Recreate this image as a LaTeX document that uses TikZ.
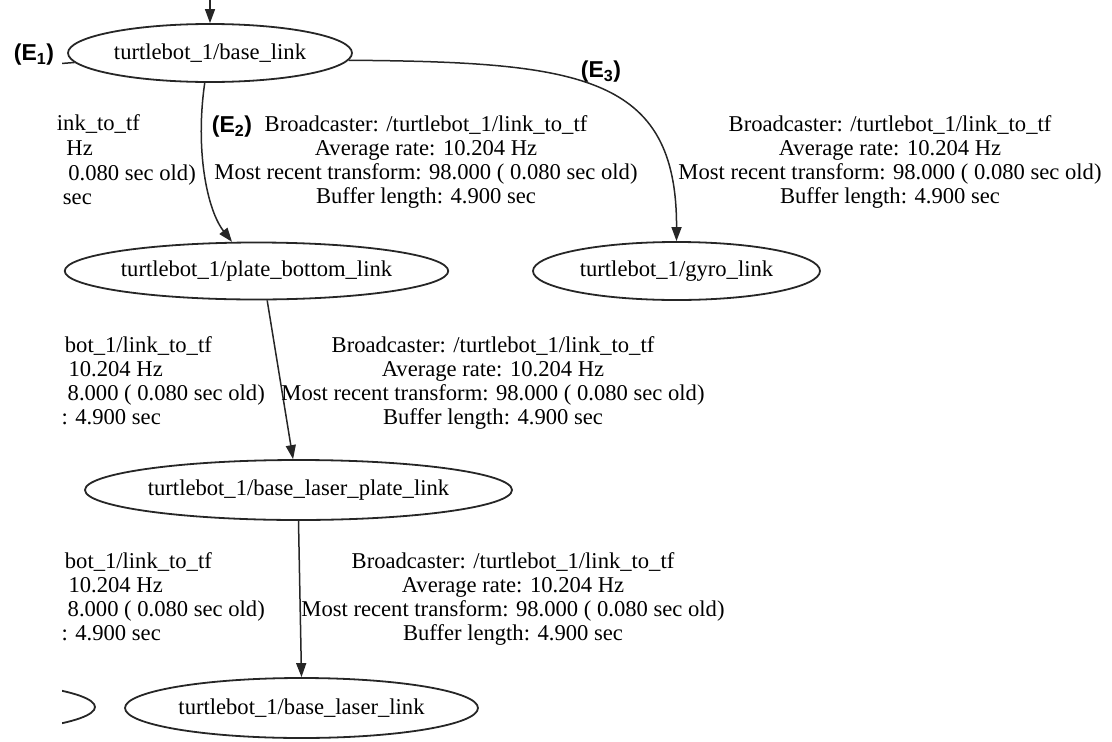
\documentclass[tikz,border=0pt]{standalone}
\usepackage{fontspec}
\setmainfont{Liberation Serif}
\newfontfamily\lblfont{Liberation Sans}
\usetikzlibrary{arrows.meta,shapes.geometric}
\begin{document}
\begin{tikzpicture}[x=1pt,y=-1pt,
  frame/.style={draw=black!85, line width=1.8pt, ellipse, inner sep=0pt, text=black,
    font=\fontsize{22.6}{24}\selectfont},
  edge/.style={draw=black!85, line width=1.5pt, -{Triangle[length=14pt,width=10pt]}},
  plainedge/.style={draw=black!85, line width=1.5pt},
  info/.style={align=center, inner sep=0pt, text=black, font=\fontsize{22.6}{24}\selectfont},
  cut/.style={anchor=base east, inner sep=0pt, text=black, font=\fontsize{22.6}{24}\selectfont},
  elabel/.style={inner sep=0pt, text=black, font=\lblfont\bfseries\fontsize{23}{25}\selectfont}]
\useasboundingbox (0,0) rectangle (1112,742);

% nodes
\node[frame, minimum width=284pt, minimum height=58pt] (base) at (210,53) {turtlebot\_1/base\_link};
\node[frame, minimum width=377pt, minimum height=57pt] (plate) at (256.5,271) {turtlebot\_1/plate\_bottom\_link};
\node[frame, minimum width=287pt, minimum height=58pt] (gyro) at (676.5,271) {turtlebot\_1/gyro\_link};
\node[frame, minimum width=427pt, minimum height=60pt] (bplate) at (298.5,490) {turtlebot\_1/base\_laser\_plate\_link};
\node[frame, minimum width=353pt, minimum height=60pt] (blaser) at (301.5,708) {turtlebot\_1/base\_laser\_link};

% edges
\coordinate (topin) at (210,0);
\draw[edge] (topin) -- (base.north);
\draw[edge] (base.260) .. controls (195,150) and (207,210) .. (plate.130);
\draw[edge] (base.-3) .. controls (580,62) and (677,75) .. (gyro.north);
\draw[edge] (plate.-70) -- (bplate.100);
\draw[edge] (bplate.south) -- (blaser.north);

% edge labels
\node[info] (l2) at (426,161.5) {Broadcaster: /turtlebot\_1/link\_to\_tf\\Average rate: 10.204 Hz\\Most recent transform: 98.000 ( 0.080 sec old)\\Buffer length: 4.900 sec};
\node[info] (l3) at (890,161.5) {Broadcaster: /turtlebot\_1/link\_to\_tf\\Average rate: 10.204 Hz\\Most recent transform: 98.000 ( 0.080 sec old)\\Buffer length: 4.900 sec};
\node[info] (l4) at (493,382.5) {Broadcaster: /turtlebot\_1/link\_to\_tf\\Average rate: 10.204 Hz\\Most recent transform: 98.000 ( 0.080 sec old)\\Buffer length: 4.900 sec};
\node[info] (l5) at (513,598.5) {Broadcaster: /turtlebot\_1/link\_to\_tf\\Average rate: 10.204 Hz\\Most recent transform: 98.000 ( 0.080 sec old)\\Buffer length: 4.900 sec};

% parts of the graph cut off at the left border
\node[cut] (a1) at (140,130.7) {ink\_to\_tf};
\node[cut] (a2) at (93,155.7) {Hz};
\node[cut] (a3) at (196,180.7) {0.080 sec old)};
\node[cut] (a4) at (92,204.7) {sec};

\node[cut] (b1) at (212,352) {bot\_1/link\_to\_tf};
\node[cut] (b2) at (163,376) {10.204 Hz};
\node[cut] (b3) at (265,400) {8.000 ( 0.080 sec old)};
\node[cut] (b4) at (161,424) {: 4.900 sec};

\node[cut] (c1) at (212,568) {bot\_1/link\_to\_tf};
\node[cut] (c2) at (163,592) {10.204 Hz};
\node[cut] (c3) at (265,616) {8.000 ( 0.080 sec old)};
\node[cut] (c4) at (161,640) {: 4.900 sec};

\begin{scope}
\clip (62,0) rectangle (1112,742);
\coordinate (leftout) at (55,64);
\draw[plainedge] (base.184) -- (leftout);
\node[frame, minimum width=386pt, minimum height=58pt] (hidden) at (-98,707) {};
\end{scope}

% edge markers
\node[elabel] (e1) at (34,55) {(E\textsubscript{1})};
\node[elabel] (e2) at (232,127) {(E\textsubscript{2})};
\node[elabel] (e3) at (601,72) {(E\textsubscript{3})};
\end{tikzpicture}
\end{document}
